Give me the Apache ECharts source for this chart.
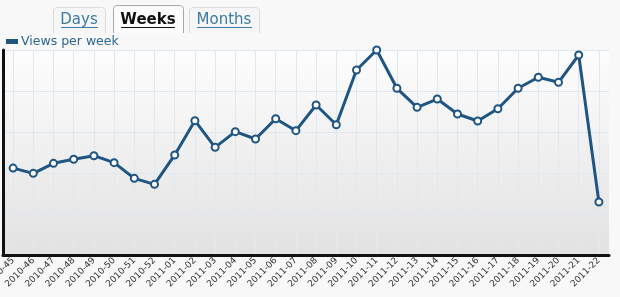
<!DOCTYPE html>
<html><head><meta charset="utf-8">
<script src="https://cdn.jsdelivr.net/npm/echarts@6/dist/echarts.min.js"></script>
<style>html,body{margin:0;padding:0;background:#f8f8f8;}#c{width:620px;height:297px;}</style>
</head><body><div id="c"></div>
<script>
const categories = ['2010-45','2010-46','2010-47','2010-48','2010-49','2010-50','2010-51','2010-52',
  '2011-01','2011-02','2011-03','2011-04','2011-05','2011-06','2011-07','2011-08','2011-09','2011-10',
  '2011-11','2011-12','2011-13','2011-14','2011-15','2011-16','2011-17','2011-18','2011-19','2011-20',
  '2011-21','2011-22'];
const viewsPerWeek = [106,99.6,111.8,116.7,121.1,112.6,93.5,86.2,122,163.8,131.3,150.4,141.5,166.2,151.6,
  182.9,158.9,225.6,250,203.3,180.1,190.2,172,163.4,178.4,203.3,216.7,210.6,243.9,64.6];
const tabLabels = ['Days','Weeks','Months'];
const seriesName = 'Views per week';

const chart = echarts.init(document.getElementById('c'));
const FONT = 'DejaVu Sans';
const tabs = [
  {x:53,y:7,w:52,h:26,active:false},
  {x:113,y:5,w:70,h:28,active:true},
  {x:189,y:7,w:70,h:26,active:false}
];
const graphic = [];
tabs.forEach((t,i)=>{
  const x0=t.x+0.5, y0=t.y+0.5, x1=t.x+t.w+0.5, y1=t.y+t.h, r=3;
  graphic.push({type:'rect',shape:{x:t.x,y:t.y,width:t.w,height:t.h,r:[4,4,0,0]},
    style:{fill:t.active?'#fbfbfb':'#f6f6f6'},z:1});
  graphic.push({type:'polyline',z:2,shape:{points:[[x0,y1],[x0,y0+r],[x0+1,y0+1],[x0+r,y0],[x1-r,y0],[x1-1,y0+1],[x1,y0+r],[x1,y1]]},
    style:{fill:null,stroke:t.active?'#a8a8a8':'#dcdcdc',lineWidth:1}});
  graphic.push({type:'text',x:t.x+t.w/2,y:20,z:3,style:{text:tabLabels[i],font:(t.active?'bold ':'')+'15px "'+FONT+'"',
    fill:t.active?'#111':'#3b7aa3',align:'center',verticalAlign:'middle'}});
});
graphic.push({type:'line',shape:{x1:61,y1:27.5,x2:98,y2:27.5},style:{stroke:'#3b7aa3',lineWidth:1},z:3});
graphic.push({type:'line',shape:{x1:121,y1:27.5,x2:175,y2:27.5},style:{stroke:'#111',lineWidth:1},z:3});
graphic.push({type:'line',shape:{x1:197,y1:27.5,x2:252,y2:27.5},style:{stroke:'#3b7aa3',lineWidth:1},z:3});

chart.setOption({
  animation:false,
  backgroundColor:'#f8f8f8',
  textStyle:{fontFamily:FONT},
  graphic:graphic,
  legend:{left:1,top:30,itemWidth:10,itemHeight:3,itemGap:4,icon:'rect',
    data:[{name:seriesName}],
    textStyle:{color:'#2d6690',fontSize:12.5,fontFamily:FONT,padding:[0,0,0,-1]}},
  grid:{left:3,right:11,top:50,bottom:42,show:true,borderWidth:0,outerBoundsMode:'none',containLabel:false,
    backgroundColor:new echarts.graphic.LinearGradient(0,0,0,1,[{offset:0,color:'#fdfdfd'},{offset:1,color:'#e2e2e2'}])},
  xAxis:{type:'category',data:categories,boundaryGap:true,
    axisLine:{lineStyle:{color:'#111',width:3}},
    axisTick:{alignWithLabel:true,length:4,lineStyle:{color:'#111',width:2}},
    axisLabel:{interval:0,rotate:45,fontSize:9,color:'#333',margin:4,fontFamily:FONT},
    splitLine:{show:true,alignWithLabel:true,lineStyle:{color:'#e0e8f2',width:1}}},
  yAxis:{type:'value',min:0,max:250,interval:50,
    axisLine:{show:true,lineStyle:{color:'#111',width:3}},
    axisTick:{show:false},axisLabel:{show:false},
    splitLine:{lineStyle:{color:'#dfe7f1',width:1}}},
  series:[{name:seriesName,type:'line',data:viewsPerWeek,
    lineStyle:{color:'#1f5582',width:3},itemStyle:{color:'#1f5582',borderColor:'#1f5582',borderWidth:2},
    symbol:'emptyCircle',symbolSize:7,color:'#1f5582'}]
});
</script></body></html>
